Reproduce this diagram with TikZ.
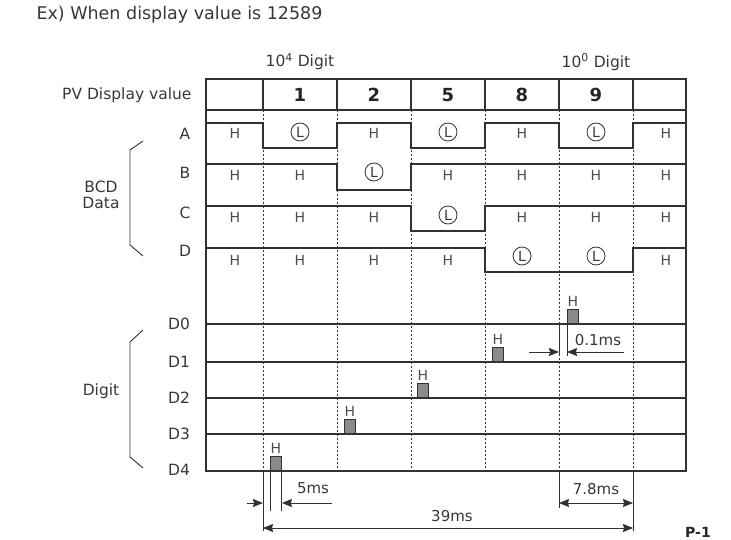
\documentclass[tikz,border=0pt]{standalone}
\usepackage{fontspec}
\setmainfont{DejaVu Sans}
\usetikzlibrary{arrows.meta,positioning}
\definecolor{lineGray}{RGB}{50,50,50}
\definecolor{textGray}{RGB}{55,55,55}
\definecolor{pulseFill}{RGB}{138,138,138}

\begin{document}
\begin{tikzpicture}[
  x=1pt, y=-1pt,
  font=\fontsize{15.5}{16.5}\selectfont,
  text=textGray,
  >=Stealth,
  frame/.style={draw=lineGray, line width=1.2pt},
  sig/.style={draw=lineGray, line width=1.4pt},
  grid/.style={draw=lineGray, line width=0.9pt, dash pattern=on 2pt off 2pt},
  hlab/.style={font=\fontsize{14}{15}\selectfont, text=black!70, inner sep=1pt},
  llab/.style={
    circle,
    draw=lineGray,
    line width=0.8pt,
    inner sep=0pt,
    minimum size=18pt,
    font=\fontsize{14}{15}\selectfont,
  },
  digbox/.style={font=\fontsize{18}{20}\selectfont\bfseries, text=black!85},
  pulse/.style={
    draw=lineGray,
    fill=pulseFill,
    line width=0.9pt,
    minimum width=11pt,
    minimum height=14pt,
    inner sep=0pt,
    anchor=south west,
  },
  dim/.style={draw=lineGray, line width=0.9pt},
  dimtip/.style={dim, -{Stealth[length=10pt, width=8pt, inset=1pt]}},
  dimboth/.style={dim, {Stealth[length=10pt, width=8pt, inset=1pt]}-{Stealth[length=10pt, width=8pt, inset=1pt]}},
  mslab/.style={font=\fontsize{15}{16}\selectfont},
]
  \useasboundingbox (0,0) rectangle (731,540);

  \node[anchor=west, font=\fontsize{17.5}{19}\selectfont] (title) at (33,15)
    {Ex) When display value is 12589};

  % header
  \node (dig4) at (300,62) {10\textsuperscript{4} Digit};
  \node (dig0) at (596,62) {10\textsuperscript{0} Digit};
  \node[anchor=east] (pvlab) at (195,95) {PV Display value};

  \draw[frame] (206,79) rectangle (686,471);
  \draw[frame] (206,110) -- (686,110);
  \foreach \x in {263,337,411,485,559,633} {
    \draw[frame] (\x,79) -- (\x,110);
    \draw[grid] (\x,110) -- (\x,471);
  }
  \node[digbox] (n1) at (300,95) {1};
  \node[digbox] (n2) at (374,95) {2};
  \node[digbox] (n5) at (448,95) {5};
  \node[digbox] (n8) at (522,95) {8};
  \node[digbox] (n9) at (596,95) {9};

  % BCD data lines
  \node (labA) at (185,134) {A};
  \node (labB) at (185,173) {B};
  \node (labC) at (185,213) {C};
  \node (labD) at (185,251) {D};
  \node[align=center] (bcd) at (101,195) {BCD\\Data};
  \draw[dim] (143,141) -- (130,150) -- (130,245) -- (143,256);

  \draw[sig] (206,123) -- (263,123) -- (263,148) -- (337,148) -- (337,123)
    -- (411,123) -- (411,148) -- (485,148) -- (485,123) -- (559,123)
    -- (559,148) -- (633,148) -- (633,123) -- (686,123);
  \draw[sig] (206,164) -- (337,164) -- (337,190) -- (411,190) -- (411,164)
    -- (686,164);
  \draw[sig] (206,206) -- (411,206) -- (411,231) -- (485,231) -- (485,206)
    -- (686,206);
  \draw[sig] (206,248) -- (485,248) -- (485,272) -- (633,272) -- (633,248)
    -- (686,248);

  \foreach \x [count=\i] in {235,374,522,666}
    \node[hlab] (aH\i) at (\x,133) {H};
  \foreach \x [count=\i] in {300,448,596}
    \node[llab] (aL\i) at (\x,132) {L};
  \foreach \x [count=\i] in {235,300,448,522,596,666}
    \node[hlab] (bH\i) at (\x,175) {H};
  \node[llab] (bL1) at (374,172) {L};
  \foreach \x [count=\i] in {235,300,374,522,596,666}
    \node[hlab] (cH\i) at (\x,217) {H};
  \node[llab] (cL1) at (448,215) {L};
  \foreach \x [count=\i] in {235,300,374,448,666}
    \node[hlab] (dH\i) at (\x,260) {H};
  \node[llab] (dL1) at (522,256) {L};
  \node[llab] (dL2) at (596,256) {L};

  % digit lines
  \foreach \y [count=\i from 0] in {324,362,398,434}
    \draw[frame] (206,\y) -- (686,\y);
  \foreach \y [count=\i from 0] in {324,362,398,434,470}
    \node (labD\i) at (179,\y) {D\i};
  \node (digit) at (101,391) {Digit};
  \draw[dim] (143,330) -- (130,342) -- (130,457) -- (143,468);

  \node[pulse] (p0) at (567,324) {};
  \node[pulse] (p1) at (492,362) {};
  \node[pulse] (p2) at (417,398) {};
  \node[pulse] (p3) at (344,434) {};
  \node[pulse] (p4) at (270,471) {};
  \foreach \i in {0,...,4}
    \node[hlab, above=1.5pt of p\i] (ph\i) {H};

  % 0.1ms
  \coordinate (g9) at (559,324);
  \draw[dim] (g9) -- ++(0,32);
  \draw[dim] (p0.south west) -- ++(0,32);
  \coordinate (g9a) at (529,352);
  \coordinate (g9b) at (624,352);
  \draw[dimtip] (g9a) -- (g9a -| g9);
  \draw[dimtip] (g9b) -- (g9b -| p0.south west);
  \node[mslab] (t01) at (598,340) {0.1ms};

  % bottom dimensions
  \coordinate (b1) at (263,471);
  \coordinate (b5) at (559,471);
  \coordinate (b6) at (633,471);
  \draw[dim] (b1) -- ++(0,60);
  \draw[dim] (b6) -- ++(0,60);
  \draw[dim] (b5) -- ++(0,37);
  \draw[dim] (p4.south west) -- ++(0,40);
  \draw[dim] (p4.south east) -- ++(0,40);

  \coordinate (m5a) at (247,503);
  \coordinate (m5b) at (332,503);
  \draw[dimtip] (m5a) -- (m5a -| b1);
  \draw[dimtip] (m5b) -- (m5b -| p4.south east);
  \node[mslab] (t5) at (313,488) {5ms};

  \draw[dimboth] ([yshift=-32pt]b5) -- ([yshift=-32pt]b6);
  \node[mslab] (t78) at (596,489) {7.8ms};

  \draw[dimboth] ([yshift=-57pt]b1) -- ([yshift=-57pt]b6);
  \node[mslab] (t39) at (452,516) {39ms};

  \node[font=\fontsize{14}{16}\selectfont\bfseries, text=black!85] (page) at (698,532) {P-1};

\end{tikzpicture}
\end{document}
